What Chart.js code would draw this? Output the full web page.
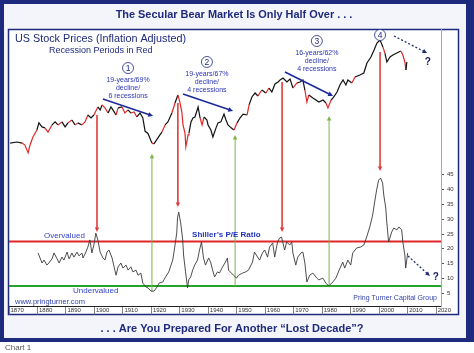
<!DOCTYPE html>
<html>
<head>
<meta charset="utf-8">
<script src="https://cdn.jsdelivr.net/npm/chart.js@4.4.0/dist/chart.umd.min.js"></script>
<style>
  html, body { margin: 0; padding: 0; background: #fff; }
  canvas { display: block; }
</style>
</head>
<body>
<canvas id="chart" width="474" height="353"></canvas>
<script>
const stockYears = [1870.4,1872.8,1874.6,1875.6,1876.7,1877.4,1878.4,1879.8,1880.5,1881.6,1882.6,1883.7,1885.1,1886.2,1887.2,1888.6,1889.7,1890.7,1892.1,1893.2,1894.2,1895.6,1896.7,1897.7,1898.8,1899.8,1901.2,1902.0,1902.7,1903.7,1904.8,1905.8,1906.5,1907.6,1908.3,1909.7,1910.7,1911.8,1912.8,1913.9,1914.9,1916.0,1917.0,1917.8,1918.8,1920.2,1920.9,1922.3,1923.0,1923.7,1924.8,1925.8,1927.2,1928.3,1929.3,1930.0,1930.7,1931.1,1931.8,1932.1,1932.9,1933.2,1933.9,1934.6,1935.3,1936.4,1937.1,1937.8,1938.5,1939.5,1939.9,1940.9,1941.6,1942.7,1943.4,1944.4,1945.5,1946.2,1946.9,1948.0,1949.0,1950.1,1951.1,1952.2,1953.6,1954.3,1955.3,1956.4,1957.4,1958.8,1960.2,1961.3,1962.3,1963.4,1964.5,1965.2,1966.2,1967.6,1968.7,1969.7,1971.1,1972.2,1973.2,1973.9,1974.6,1975.3,1976.7,1977.8,1978.8,1980.3,1981.3,1982.0,1983.1,1983.8,1985.2,1986.2,1987.3,1988.3,1989.0,1990.4,1991.5,1993.2,1994.6,1995.7,1997.1,1998.2,1999.2,2000.3,2001.3,2002.0,2002.7,2003.8,2004.8,2006.2,2007.6,2008.3,2009.0,2009.4,2009.7];
const stockValues = [87,90,87,82,64.5,82,105,130,162,143,139,122,152,167,152,167,143,162,177,152,162,152,167,206,188,206,264,241,281,256,219,264,241,206,256,264,219,241,219,226,194,219,188,125,117,87,85,102,112,122,152,167,219,298,381,307,226,152,118,78,112,118,167,188,194,264,188,152,194,177,152,130,105,139,162,167,212,177,152,139,130,162,188,212,206,281,359,405,370,444,405,472,418,534,568,605,642,568,623,472,551,568,605,444,307,381,348,327,307,327,298,256,327,348,418,519,605,519,605,551,662,705,748,1017,1224,1518,1880,2061,1664,1383,1050,1224,1302,1383,1471,1302,1050,821,1050];

// Shiller's P/E ratio
const peYears = [1880.2,1881.6,1882.3,1883.3,1884.0,1885.1,1885.8,1886.9,1887.6,1888.6,1889.3,1890.4,1891.1,1892.1,1892.8,1893.9,1894.6,1895.6,1896.0,1897.0,1897.7,1898.4,1899.1,1899.8,1900.5,1901.2,1902.0,1903.0,1903.7,1904.4,1905.1,1906.2,1906.9,1907.6,1908.3,1909.3,1910.0,1911.1,1911.8,1912.8,1913.5,1914.6,1915.3,1916.3,1917.0,1918.1,1918.8,1919.9,1920.9,1922.0,1922.7,1924.0,1925.0,1926.1,1927.5,1928.2,1928.9,1929.2,1929.6,1930.3,1931.0,1931.3,1932.0,1932.7,1933.1,1933.8,1934.5,1935.2,1936.2,1936.9,1937.6,1938.3,1939.0,1940.1,1940.8,1941.5,1942.2,1943.2,1943.9,1945.0,1946.0,1946.7,1947.1,1948.1,1948.8,1949.9,1950.6,1952.0,1953.1,1954.1,1955.5,1956.2,1957.3,1958.0,1959.0,1959.8,1960.8,1961.5,1962.6,1963.3,1964.3,1965.0,1965.7,1966.8,1967.5,1968.6,1969.3,1969.7,1970.7,1971.4,1972.5,1973.2,1973.9,1974.6,1975.6,1976.7,1978.1,1978.8,1980.2,1981.3,1982.3,1983.7,1984.8,1985.8,1987.2,1987.9,1989.0,1990.0,1990.7,1992.1,1993.5,1994.6,1995.6,1996.7,1997.7,1998.4,1999.1,1999.8,2000.5,2001.2,2001.6,2002.3,2002.6,2003.3,2004.4,2005.1,2006.2,2006.9,2007.9,2008.3,2009.0,2009.3,2010.0];
const peValues = [18.6,15.2,16.2,14.5,15.2,16.6,18.6,16.6,15.2,17.2,16.2,18.9,16.6,18.6,17.2,18.9,17.6,18.6,16.9,18.9,20.6,23.0,18.6,21.3,25.3,23.0,18.9,16.9,16.2,18.9,19.6,16.9,13.9,11.1,13.9,15.2,13.5,14.5,12.8,13.9,12.2,12.8,11.1,11.8,8.4,7.1,6.8,5.7,5.7,7.1,8.4,8.8,10.5,12.2,16.2,20.6,25.3,30.7,32.4,28.7,23.0,17.9,12.2,6.8,9.5,10.5,12.8,14.5,16.2,19.6,22.3,16.9,14.5,16.9,15.5,12.8,10.5,12.2,11.8,13.9,15.5,16.9,12.8,11.8,11.1,10.1,11.1,11.8,12.2,12.8,15.5,18.9,17.2,16.2,18.6,19.6,17.2,20.6,22.0,17.2,22.3,23.6,24.0,19.6,22.3,21.3,22.3,18.6,14.5,17.2,18.6,18.9,15.2,8.8,11.1,11.8,10.1,9.5,10.1,8.4,7.4,8.8,10.1,12.5,15.5,13.5,16.2,14.5,18.6,20.3,20.6,21.3,24.0,27.4,31.4,35.8,39.9,43.2,43.9,42.2,38.2,33.8,29.7,22.3,25.7,27.0,26.4,27.4,26.4,22.3,17.9,13.5,18.6];

// recession periods (drawn in red on the price line)
const recessions = [[1873.8,1879.2],[1882.2,1885.4],[1887.2,1888.3],[1890.6,1891.4],[1893.1,1894.5],[1895.9,1897.5],[1899.5,1900.9],[1902.7,1904.6],[1907.4,1908.5],[1910.1,1912.0],[1913.0,1914.9],[1918.6,1919.2],[1920.0,1921.5],[1923.4,1924.5],[1926.8,1927.9],[1929.6,1933.2],[1937.4,1938.5],[1945.1,1945.8],[1948.9,1949.8],[1953.5,1954.4],[1957.6,1958.3],[1960.3,1961.1],[1969.9,1970.9],[1973.9,1975.2],[1980.0,1980.5],[1981.5,1982.9],[1990.5,1991.2],[2001.2,2001.9],[2007.9,2009.5]];

const xTicks = [1870,1880,1890,1900,1910,1920,1930,1940,1950,1960,1970,1980,1990,2000,2010,2020];
const peTicks = [5,10,15,20,25,30,35,40,45];
const overvaluedPE = 22.5;
const undervaluedPE = 7.4;

// market tops (price -> P/E) and bottoms (P/E -> price)
const topYears = [1900.9, 1929.3, 1965.9, 2000.3];
const topPrices = [206, 298, 568, 1427];
const topPEs = [25.7, 34.1, 25.7, 46.3];
const bottomYears = [1920.2, 1949.4, 1982.4];
const bottomPEs = [5.5, 7.4, 7.0];
const bottomPrices = [62.6, 112, 200];

// secular bear declines
const bearNumbers = ['1', '2', '3', '4'];
const bearLabelYears = [1911.8, 1939.5, 1978.1, 2000.3];
const bearLabelPrices = [872, 1050, 2000, 2404];
const bearTexts = [
  ['19-years/69%', 'decline/', '6 recessions'],
  ['19-years/67%', 'decline/', '4 recessions'],
  ['16-years/62%', 'decline/', '4 recessions'],
  []
];
const bearStart = [[1903.0, 337], [1931.1, 393], [1966.9, 772]];
const bearEnd = [[1920.6, 200], [1948.7, 233], [1983.8, 370]];

const FONT = '"Liberation Sans", Arial, sans-serif';
const NAVY = '#1e2a7e';

function inRecession(year) {
  return recessions.some(r => year >= r[0] && year <= r[1]);
}

function arrow(ctx, x1, y1, x2, y2, color, lw, head, dash) {
  const a = Math.atan2(y2 - y1, x2 - x1);
  ctx.save();
  ctx.strokeStyle = color;
  ctx.fillStyle = color;
  ctx.lineWidth = lw;
  ctx.setLineDash(dash || []);
  ctx.beginPath();
  ctx.moveTo(x1, y1);
  ctx.lineTo(x2 - Math.cos(a) * head * 0.7, y2 - Math.sin(a) * head * 0.7);
  ctx.stroke();
  ctx.setLineDash([]);
  ctx.beginPath();
  ctx.moveTo(x2, y2);
  ctx.lineTo(x2 - head * Math.cos(a - 0.45), y2 - head * Math.sin(a - 0.45));
  ctx.lineTo(x2 - head * Math.cos(a + 0.45), y2 - head * Math.sin(a + 0.45));
  ctx.closePath();
  ctx.fill();
  ctx.restore();
}

// draw text scaled to a given width
function fitText(ctx, text, x, y, width, weight, color, align) {
  ctx.font = weight + ' 10px ' + FONT;
  const size = 10 * width / ctx.measureText(text).width;
  ctx.font = weight + ' ' + size.toFixed(2) + 'px ' + FONT;
  ctx.fillStyle = color;
  ctx.textAlign = align || 'left';
  ctx.textBaseline = 'middle';
  ctx.fillText(text, x, y);
}

function text(ctx, str, x, y, size, weight, color, align) {
  ctx.font = weight + ' ' + size + 'px ' + FONT;
  ctx.fillStyle = color;
  ctx.textAlign = align || 'left';
  ctx.textBaseline = 'middle';
  ctx.fillText(str, x, y);
}

const framePlugin = {
  id: 'frame',
  beforeDraw(chart) {
    const ctx = chart.ctx;
    ctx.save();
    ctx.fillStyle = '#fff';
    ctx.fillRect(0, 0, 474, 353);
    ctx.fillStyle = NAVY;
    ctx.fillRect(0, 0, 474, 342);
    ctx.fillStyle = '#f4f5fa';
    ctx.fillRect(4, 4, 462, 334);
    ctx.fillStyle = '#fff';
    ctx.fillRect(8, 29, 451, 286);
    ctx.strokeStyle = NAVY;
    ctx.lineWidth = 1.5;
    ctx.strokeRect(8.5, 29.5, 450, 285);

    fitText(ctx, 'The Secular Bear Market Is Only Half Over . . .', 234, 15, 237, 'bold', NAVY, 'center');
    fitText(ctx, '. . . Are You Prepared For Another \u201cLost Decade\u201d?', 232, 329, 263, 'bold', NAVY, 'center');
    text(ctx, 'Chart 1', 5, 348, 8, 'normal', '#555');
    ctx.restore();
  },
  beforeDatasetsDraw(chart) {
    const ctx = chart.ctx;
    const a = chart.chartArea;
    const x = chart.scales.x, pr = chart.scales.price, pe = chart.scales.pe;
    ctx.save();
    // valuation bands
    ctx.lineWidth = 2;
    ctx.strokeStyle = '#e0262b';
    ctx.beginPath();
    ctx.moveTo(a.left, pe.getPixelForValue(overvaluedPE));
    ctx.lineTo(a.right, pe.getPixelForValue(overvaluedPE));
    ctx.stroke();
    ctx.strokeStyle = '#27a22b';
    ctx.beginPath();
    ctx.moveTo(a.left, pe.getPixelForValue(undervaluedPE));
    ctx.lineTo(a.right, pe.getPixelForValue(undervaluedPE));
    ctx.stroke();
    ctx.restore();

    topYears.forEach((yr, i) => {
      const px = x.getPixelForValue(yr);
      arrow(ctx, px, pr.getPixelForValue(topPrices[i]), px, pe.getPixelForValue(topPEs[i]), '#e23b3b', 1.6, 5);
    });
    bottomYears.forEach((yr, i) => {
      const px = x.getPixelForValue(yr);
      arrow(ctx, px, pe.getPixelForValue(bottomPEs[i]), px, pr.getPixelForValue(bottomPrices[i]), '#7ab648', 1, 5);
    });
  },
  afterDatasetsDraw(chart) {
    const ctx = chart.ctx;
    const x = chart.scales.x, pr = chart.scales.price, pe = chart.scales.pe;
    ctx.save();

    text(ctx, 'US Stock Prices (Inflation Adjusted)', 15, 39, 10.8, 'normal', NAVY);
    text(ctx, 'Recession Periods in Red', 49, 51, 9, 'normal', NAVY);

    bearStart.forEach((s, i) => {
      arrow(ctx, x.getPixelForValue(s[0]), pr.getPixelForValue(s[1]),
        x.getPixelForValue(bearEnd[i][0]), pr.getPixelForValue(bearEnd[i][1]), '#1c2a9a', 1.6, 5.5);
    });

    bearNumbers.forEach((n, i) => {
      const cx = x.getPixelForValue(bearLabelYears[i]);
      const cy = pr.getPixelForValue(bearLabelPrices[i]);
      ctx.beginPath();
      ctx.arc(cx, cy, 5.5, 0, Math.PI * 2);
      ctx.fillStyle = '#fff';
      ctx.fill();
      ctx.strokeStyle = NAVY;
      ctx.lineWidth = 0.8;
      ctx.stroke();
      text(ctx, n, cx, cy + 0.5, 8.5, 'normal', NAVY, 'center');
      bearTexts[i].forEach((line, j) => {
        text(ctx, line, cx, cy + 12 + j * 8, 7, 'normal', '#2a35b5', 'center');
      });
    });

    // what comes next
    arrow(ctx, x.getPixelForValue(2005.2), pr.getPixelForValue(2331), x.getPixelForValue(2016.8), pr.getPixelForValue(1383), '#1f2d70', 1.3, 5, [2, 2]);
    arrow(ctx, x.getPixelForValue(2010.1), pe.getPixelForValue(17.6), x.getPixelForValue(2017.8), pe.getPixelForValue(10.8), '#1f2d70', 1.3, 5, [2, 2]);
    text(ctx, '?', x.getPixelForValue(2017.1), pr.getPixelForValue(1050), 10, 'bold', '#1a2060', 'center');
    text(ctx, '?', x.getPixelForValue(2019.9), pe.getPixelForValue(10.5), 10, 'bold', '#1a2060', 'center');

    text(ctx, 'Overvalued', x.getPixelForValue(1882.3), pe.getPixelForValue(24.3), 8, 'normal', '#3344cc');
    text(ctx, 'Undervalued', x.getPixelForValue(1892.5), pe.getPixelForValue(5.7), 8, 'normal', '#3344cc');
    text(ctx, 'Shiller\u2019s P/E Ratio', x.getPixelForValue(1934.3), pe.getPixelForValue(24.7), 8, 'bold', '#2233bb');
    text(ctx, 'www.pringturner.com', x.getPixelForValue(1872.1), pe.getPixelForValue(2.0), 7.5, 'normal', '#3344aa');
    text(ctx, 'Pring Turner Capital Group', x.getPixelForValue(2020.3), pe.getPixelForValue(3.4), 7, 'normal', '#3344aa', 'right');
    ctx.restore();
  }
};

const stockData = stockYears.map((yr, i) => ({ x: yr, y: stockValues[i] }));
const peData = peYears.map((yr, i) => ({ x: yr, y: peValues[i] }));

new Chart(document.getElementById('chart'), {
  type: 'line',
  data: {
    datasets: [
      {
        label: 'US Stock Prices (Inflation Adjusted)',
        data: stockData,
        yAxisID: 'price',
        borderColor: '#111',
        borderWidth: 1.2,
        pointRadius: 0,
        tension: 0,
        segment: {
          borderColor: c => inRecession((c.p0.parsed.x + c.p1.parsed.x) / 2) ? '#e02828' : undefined
        }
      },
      {
        label: "Shiller's P/E Ratio",
        data: peData,
        yAxisID: 'pe',
        borderColor: '#3a3a3a',
        borderWidth: 0.9,
        pointRadius: 0,
        tension: 0
      }
    ]
  },
  options: {
    responsive: false,
    animation: false,
    devicePixelRatio: 1,
    layout: { padding: { left: 9, top: 29, right: 15, bottom: 38 } },
    plugins: { legend: { display: false }, tooltip: { enabled: false } },
    scales: {
      x: {
        type: 'linear',
        min: 1870,
        max: 2021.7,
        afterBuildTicks: s => { s.ticks = xTicks.map(v => ({ value: v })); },
        afterFit: s => { s.height = 9; },
        grid: { drawOnChartArea: false, drawTicks: true, tickLength: 9, color: '#666', lineWidth: 0.8 },
        border: { display: true, color: '#222', width: 1 },
        ticks: {
          align: 'start', padding: -8, labelOffset: 1.5, maxRotation: 0, autoSkip: false,
          color: '#333', font: { size: 6, family: FONT },
          callback: v => String(v)
        }
      },
      price: { type: 'logarithmic', display: false, min: 0.586, max: 2890 },
      pe: {
        type: 'linear',
        position: 'right',
        min: 0.68,
        max: 94.26,
        afterBuildTicks: s => { s.ticks = peTicks.map(v => ({ value: v })); },
        afterFit: s => { s.width = 18; },
        grid: { drawOnChartArea: false, tickLength: 3, color: '#555' },
        border: { display: true, color: '#aaa' },
        ticks: { padding: 3, color: '#333', font: { size: 6, family: FONT }, callback: v => String(v) }
      }
    }
  },
  plugins: [framePlugin]
});
</script>
</body>
</html>
